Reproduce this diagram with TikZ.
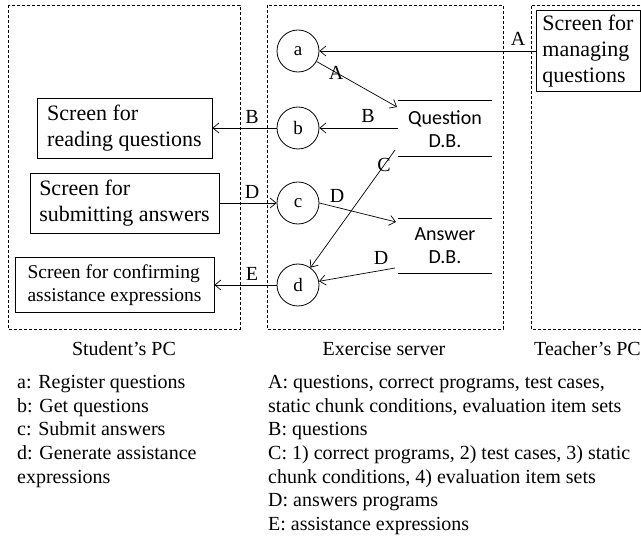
\documentclass[tikz,border=0pt]{standalone}
\usepackage{fontspec}
\setmainfont{Liberation Serif}
\newfontfamily\calib{Carlito}
\usetikzlibrary{arrows.meta}
\tikzset{
 dbox/.style={draw, line width=0.8pt, dash pattern=on 3pt off 2pt},
 scr/.style={draw, line width=0.8pt, inner sep=0pt, align=left, font=\fontsize{22}{26}\selectfont},
 proc/.style={draw, circle, minimum size=42pt, inner sep=0pt, line width=0.8pt, font=\fontsize{19}{22}\selectfont},
 flow/.style={line width=0.7pt, -{Straight Barb[length=6pt,width=10pt]}},
 lab/.style={font=\fontsize{20}{24}\selectfont, inner sep=0pt},
 leg/.style={font=\fontsize{20}{24}\selectfont, inner sep=0pt, anchor=base west},
 dbline/.style={line width=0.8pt},
 dbtext/.style={font=\calib\fontsize{20}{23}\selectfont, align=center, inner sep=0pt},
}
\begin{document}
\begin{tikzpicture}[x=1pt,y=-1pt]
\useasboundingbox (0,0) rectangle (641,537);
% dashed containers
\draw[dbox] (8,5) rectangle (240,329);
\draw[dbox] (267,5) rectangle (503,329);
\draw[dbox] (650,5) -- (531,5) -- (531,329) -- (650,329);
% screens
\node[scr, minimum width=175pt, minimum height=60pt] (rbox) at (124.5,128) {Screen for\\reading questions};
\node[scr, minimum width=189pt, minimum height=60pt] (sbox) at (124.5,203) {Screen for\\submitting answers};
\node[scr, minimum width=199pt, minimum height=55pt, font=\fontsize{19.5}{23.5}\selectfont] (cbox) at (114.5,285) {Screen for confirming\\assistance expressions};
\node[scr, minimum width=104pt, minimum height=81pt] (tbox) at (588,51) {Screen for\\managing\\questions};
% processes
\node[proc] (a) at (298,51) {a};
\node[proc] (b) at (298,128) {b};
\node[proc] (c) at (298,203) {c};
\node[proc] (d) at (298,285) {d};
% databases
\coordinate (q1) at (398,100); \coordinate (q2) at (492,100);
\coordinate (q3) at (398,156); \coordinate (q4) at (492,156);
\draw[dbline] (q1) -- (q2);
\draw[dbline] (q3) -- (q4);
\node[dbtext] (qdb) at (445,129) {Question\\D.B.};
\coordinate (r1) at (398,218); \coordinate (r2) at (492,218);
\coordinate (r3) at (398,273); \coordinate (r4) at (492,273);
\draw[dbline] (r1) -- (r2);
\draw[dbline] (r3) -- (r4);
\node[dbtext] (adb) at (445,246) {Answer\\D.B.};
% ports
\coordinate (qa) at (397,107);
\coordinate (qb) at (398,128);
\coordinate (qc) at (395,150);
\coordinate (aa) at (396,222);
\coordinate (ad) at (395,268);
% flows
\draw[flow] (tbox) -- (a);
\draw[flow] (a) -- (qa);
\draw[flow] (qb) -- (b);
\draw[flow] (b) -- (rbox);
\draw[flow] (sbox) -- (c);
\draw[flow] (c.east) -- (aa);
\draw[flow] (qc) -- (d);
\draw[flow] (ad) -- (d);
\draw[flow] (d) -- (cbox);
% flow labels
\node[lab] (lA1) at (518,39) {A};
\node[lab] (lA2) at (336,73) {A};
\node[lab] (lB1) at (368,116) {B};
\node[lab] (lB2) at (252,117) {B};
\node[lab] (lD1) at (252,192) {D};
\node[lab] (lD2) at (337,196) {D};
\node[lab] (lC) at (384,165) {C};
\node[lab] (lD3) at (381,258) {D};
\node[lab] (lE) at (252,274) {E};
% captions
\node[lab] (cap1) at (124,349) {Student’s PC};
\node[lab] (cap2) at (384,349) {Exercise server};
\node[lab] (cap3) at (587.5,349) {Teacher’s PC};
% legends
\node[leg] (l1) at (17,388.5) {a: Register questions};
\node[leg] (l2) at (17,412.2) {b: Get questions};
\node[leg] (l3) at (17,435.9) {c: Submit answers};
\node[leg] (l4) at (17,459.6) {d: Generate assistance};
\node[leg] (l5) at (17,483.3) {expressions};
\node[leg] (m1) at (268,388.5) {A: questions, correct programs, test cases,};
\node[leg] (m2) at (268,412.2) {static chunk conditions, evaluation item sets};
\node[leg] (m3) at (268,435.9) {B: questions};
\node[leg] (m4) at (268,459.6) {C: 1) correct programs, 2) test cases, 3) static};
\node[leg] (m5) at (268,483.3) {chunk conditions, 4) evaluation item sets};
\node[leg] (m6) at (268,507.0) {D: answers programs};
\node[leg] (m7) at (268,530.7) {E: assistance expressions};
\end{tikzpicture}
\end{document}
